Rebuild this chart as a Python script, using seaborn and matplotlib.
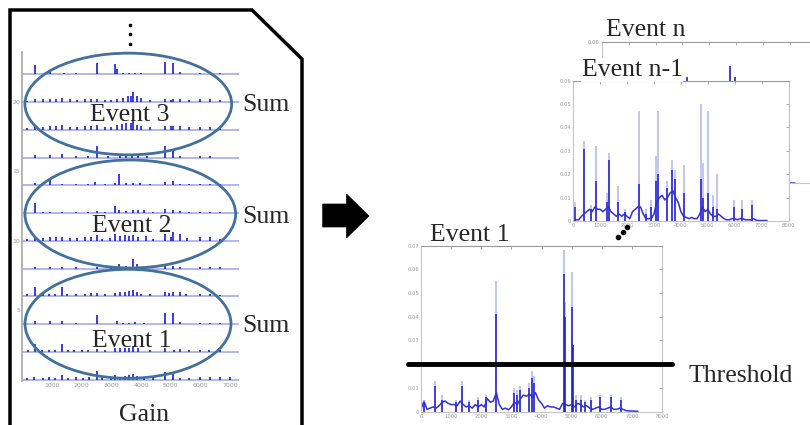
import numpy as np
import matplotlib.pyplot as plt
import seaborn as sns
from matplotlib.patches import Ellipse, Polygon

# --- Configuration ---
sns.set_theme(style="white")
plt.rcParams['font.family'] = ['Liberation Serif', 'DejaVu Serif']

W, H = 810, 425
BLUE = '#1c1cd2'
LIGHT_BLUE = '#9ea4e6'
TICK_GREY = '#9a9a9a'
ELLIPSE_COLOR = '#41719c'

# --- Left panel: stacked gain traces (12 traces, offset 2 units apart) ---
trace_offsets = [0, 2, 4, 6, 8, 10, 12, 14, 16, 18, 20, 22]
trace_gain_max = 7300
left_yticks = [5, 10, 15, 20]
left_xticks = [1000, 2000, 3000, 4000, 5000, 6000, 7000]

spike_gain = [
    [150, 400, 700, 900, 1100, 1325, 1550, 1800, 2050, 2250, 2500, 2700, 3000, 3120, 3300, 3450, 3600, 3740, 3850, 4100, 4400, 4800, 5080, 5300, 5600, 5985, 6320, 6650, 7000],
    [200, 430, 650, 900, 1100, 1325, 1550, 1750, 2000, 2200, 2500, 2800, 3121, 3300, 3450, 3600, 3740, 3900, 4300, 4800, 5100, 5300, 5600, 5985, 6300, 6650],
    [430, 932, 1325, 1800, 2500, 3200, 3400, 3600, 3800, 4100, 4800, 5085, 5300, 5985, 6320, 6650],
    [150, 430, 700, 900, 1100, 1325, 1500, 1800, 2100, 2300, 2504, 2800, 3121, 3300, 3450, 3600, 3738, 3850, 4000, 4300, 4805, 4950, 5085, 5300, 5500, 5985, 6320, 6650],
    [430, 932, 1325, 1800, 2500, 3000, 3250, 3500, 3740, 3850, 4100, 4805, 5085, 5300, 5985, 6320, 6650],
    [150, 430, 700, 932, 1150, 1325, 1600, 1850, 2100, 2300, 2504, 2700, 2950, 3121, 3300, 3450, 3600, 3740, 3900, 4150, 4400, 4805, 5000, 5085, 5300, 5550, 5985, 6320, 6650],
    [430, 700, 932, 1325, 1800, 2200, 2504, 2800, 3121, 3250, 3500, 3740, 3900, 4100, 4400, 4805, 5085, 5300, 5600, 5985, 6320, 6650],
    [430, 932, 1325, 1800, 2200, 2450, 2800, 3121, 3250, 3500, 3740, 3950, 4300, 4805, 5085, 5300, 5600, 5985, 6320, 6650],
    [430, 932, 1325, 1800, 2200, 2504, 2900, 3300, 3500, 3700, 3900, 4200, 4805, 5085, 5300, 5985, 6320],
    [150, 430, 700, 932, 1150, 1325, 1600, 1850, 2100, 2300, 2504, 2800, 3000, 3200, 3350, 3500, 3650, 3738, 3850, 4000, 4300, 4805, 5000, 5085, 5300, 5600, 5985, 6320, 6650],
    [150, 430, 700, 932, 1150, 1325, 1600, 1850, 2100, 2300, 2504, 2800, 3000, 3200, 3400, 3550, 3650, 3738, 3850, 4000, 4300, 4805, 5000, 5085, 5300, 5600, 5985, 6320, 6650],
    [430, 932, 1400, 1800, 2504, 3121, 3180, 3400, 3600, 3800, 4000, 4805, 5085, 5300, 5985, 6320, 6650],
]
spike_height = [
    [0.15, 0.2, 0.15, 0.2, 0.15, 0.35, 0.15, 0.2, 0.15, 0.2, 0.6, 0.15, 0.15, 0.3, 0.2, 0.25, 0.3, 0.4, 0.25, 0.15, 0.15, 0.55, 0.4, 0.15, 0.15, 0.2, 0.2, 0.2, 0.2],
    [0.1, 0.6, 0.15, 0.15, 0.15, 0.6, 0.1, 0.15, 0.1, 0.15, 0.2, 0.15, 0.3, 0.25, 0.3, 0.3, 0.4, 0.25, 0.1, 0.25, 0.15, 0.2, 0.1, 0.15, 0.1, 0.1],
    [0.25, 0.2, 0.2, 0.1, 0.65, 0.2, 0.1, 0.1, 0.12, 0.1, 0.8, 0.8, 0.15, 0.1, 0.1, 0.08],
    [0.15, 0.65, 0.2, 0.2, 0.2, 0.65, 0.15, 0.2, 0.2, 0.25, 0.25, 0.15, 0.25, 0.3, 0.3, 0.35, 0.45, 0.3, 0.2, 0.15, 0.3, 0.25, 0.3, 0.3, 0.15, 0.2, 0.15, 0.1],
    [0.1, 0.1, 0.1, 0.08, 0.1, 0.1, 0.3, 0.15, 0.7, 0.35, 0.1, 0.2, 0.15, 0.1, 0.1, 0.1, 0.08],
    [0.15, 0.35, 0.2, 0.3, 0.25, 0.25, 0.2, 0.2, 0.25, 0.3, 0.4, 0.15, 0.2, 0.5, 0.35, 0.4, 0.35, 0.4, 0.3, 0.35, 0.15, 0.5, 0.3, 0.6, 0.5, 0.2, 0.3, 0.3, 0.15],
    [0.75, 0.1, 0.1, 0.1, 0.1, 0.1, 0.15, 0.1, 0.5, 0.2, 0.15, 0.25, 0.2, 0.2, 0.1, 0.3, 0.2, 0.15, 0.1, 0.1, 0.1, 0.1],
    [0.15, 0.4, 0.1, 0.1, 0.1, 0.25, 0.1, 0.15, 0.8, 0.15, 0.15, 0.15, 0.1, 0.25, 0.3, 0.1, 0.1, 0.1, 0.1, 0.08],
    [0.15, 0.15, 0.25, 0.1, 0.1, 0.8, 0.1, 0.1, 0.12, 0.12, 0.1, 0.1, 0.8, 0.6, 0.1, 0.1, 0.08],
    [0.15, 0.25, 0.2, 0.25, 0.3, 0.35, 0.2, 0.2, 0.25, 0.3, 0.35, 0.2, 0.2, 0.35, 0.4, 0.45, 0.45, 0.6, 0.35, 0.3, 0.2, 0.3, 0.25, 0.3, 0.25, 0.2, 0.2, 0.2, 0.15],
    [0.1, 0.2, 0.25, 0.2, 0.25, 0.3, 0.2, 0.15, 0.2, 0.25, 0.2, 0.15, 0.15, 0.25, 0.3, 0.4, 0.45, 0.75, 0.4, 0.3, 0.15, 0.25, 0.15, 0.25, 0.2, 0.15, 0.2, 0.25, 0.15],
    [0.67, 0.24, 0.1, 0.08, 0.84, 0.72, 0.4, 0.1, 0.1, 0.12, 0.1, 0.9, 0.84, 0.15, 0.1, 0.1, 0.1],
]

# --- Right panels: single event spectra (values in units of 0.001) ---
spec_xticks = [0, 1000, 2000, 3000, 4000, 5000, 6000, 7000, 8000]
baseline_gain = np.arange(0, 7300, 100)

event1_baseline = [1.0, 4.5, 1.0, 1.5, 2.0, 1.5, 2.5, 4.0, 4.5, 3.5,
                   3.0, 3.0, 2.5, 4.5, 3.0, 2.0, 2.5, 1.5, 3.0, 2.0,
                   3.0, 2.0, 5.5, 4.0, 4.5, 8.0, 3.0, 1.0, 1.5, 0.8,
                   2.0, 4.0, 3.0, 5.5, 7.0, 6.5, 7.5, 6.0, 8.0, 5.0,
                   3.5, 1.5, 2.5, 2.0, 2.0, 1.5, 1.0, 3.5, 3.0, 2.5,
                   3.0, 2.0, 3.5, 3.0, 2.0, 2.5, 1.5, 1.0, 1.5, 2.0,
                   1.0, 1.0, 1.5, 2.0, 1.0, 1.0, 1.5, 1.0, 0.5, 0.3,
                   0.3, 0.2, 0.2]
event1_spike_gain = [100, 450, 700, 1150, 1350, 1600, 1900, 2150, 2490, 3100, 3200, 3300, 3600, 3700, 3750,
                     4750, 4770, 5000, 5050, 5150, 5300, 5450, 5650, 5950, 6300, 6650]
event1_spike_peak = [5, 13, 7, 5, 13, 5, 6, 7, 55, 10, 9, 11, 12, 17, 15, 68, 46, 59, 28, 7, 7, 5, 6, 7, 7, 6]
event1_spike_core = [4, 11, 5, 4, 11, 4, 5, 6, 41, 8, 7, 9, 10, 14, 12, 58, 40, 44, 28, 5, 5, 4, 5, 6, 6, 5]
threshold = 0.02

eventn1_baseline = [0.0, 0.5, 0.5, 2.0, 3.0, 4.0, 5.0, 4.0, 6.0, 5.0,
                    5.0, 4.0, 5.0, 6.0, 4.0, 3.0, 2.0, 3.0, 2.0, 3.0,
                    2.0, 1.0, 4.0, 5.0, 6.0, 6.0, 3.0, 1.0, 1.0, 1.0,
                    3.0, 8.0, 10.0, 11.0, 9.0, 10.0, 12.0, 13.0, 10.0, 8.0,
                    4.0, 2.0, 1.5, 1.0, 1.5, 1.0, 1.0, 3.0, 6.0, 4.0,
                    5.0, 3.0, 2.0, 2.0, 3.0, 2.0, 1.0, 0.5, 0.5, 1.0,
                    1.0, 0.5, 1.0, 1.0, 0.5, 0.5, 0.5, 1.0, 0.3, 0.2,
                    0.2, 0.2, 0.2]
eventn1_spike_gain = [60, 410, 650, 845, 1250, 1315, 1670, 1920, 2440, 2700, 2890, 3060, 3160, 3500, 3680,
                      3780, 4115, 4745, 4810, 5020, 5205, 5330, 5975, 6260, 6630]
eventn1_spike_peak = [8, 34, 7, 32, 12, 29, 15, 5, 47, 5, 9, 28, 47, 17, 26, 22, 24, 50, 25, 47, 11, 20, 9, 9, 9]
eventn1_spike_core = [6, 31, 5, 17, 8, 26, 8, 4, 16, 3, 6, 17, 20, 14, 22, 18, 12, 18, 10, 12, 6, 5, 6, 5, 7]

eventn_spike_gain = [2460, 3180, 4770, 4960]
eventn_spike_peak = [47, 45, 50, 45]

fig = plt.figure(figsize=(W / 100, H / 100), dpi=100)


def px_axes(x0, y0, x1, y1):
    # axes placed by pixel box (top-left origin)
    return fig.add_axes([x0 / W, 1 - y1 / H, (x1 - x0) / W, (y1 - y0) / H])


def style_spectrum(ax, ymax):
    ax.set_xlim(0, 8000)
    ax.set_ylim(0, ymax)
    ax.set_xticks(spec_xticks)
    yt = np.round(np.arange(0, ymax + 1e-9, 0.01), 2)
    ax.set_yticks(yt)
    ax.set_yticklabels(['0'] + [f'{v:.2f}' for v in yt[1:]])
    ax.tick_params(direction='in', length=2, width=0.5, labelsize=3.8,
                   labelcolor=TICK_GREY, color='#888888', pad=1.5,
                   top=True, right=True)
    for lab in ax.get_xticklabels() + ax.get_yticklabels():
        lab.set_family('DejaVu Sans')
    for sp in ax.spines.values():
        sp.set_color('#c4c4c4')
        sp.set_linewidth(0.8)
    ax.spines['top'].set_color('#9a9a9a')
    ax.set_facecolor('white')
    ax.set_xlabel('')
    ax.set_ylabel('')


def draw_spectrum(ax, base, sg, peak, core):
    sns.lineplot(x=baseline_gain, y=np.array(base) / 1000, ax=ax, color=BLUE, lw=1.1, alpha=0.9)
    ax.vlines(sg, 0, np.array(peak) / 1000, color=LIGHT_BLUE, lw=1.1, alpha=0.8)
    ax.vlines(sg, 0, np.array(core) / 1000, color=BLUE, lw=1.1)


# Left stacked traces
axl = px_axes(22.3, 52, 242, 381)
axl.set_xlim(0, 7400)
axl.set_ylim(-0.1, 23.6)
axl.hlines(trace_offsets, 0, trace_gain_max, color=LIGHT_BLUE, lw=1.1)
for off, g, h in zip(trace_offsets, spike_gain, spike_height):
    axl.vlines(g, off, off + np.array(h), color=BLUE, lw=1.2)
axl.set_yticks(left_yticks)
axl.set_xticks(left_xticks)
axl.tick_params(direction='in', length=2, width=0.5, labelsize=4.5,
                labelcolor=TICK_GREY, color='#999999', pad=1.5)
for lab in axl.get_xticklabels() + axl.get_yticklabels():
    lab.set_family('DejaVu Sans')
for name, sp in axl.spines.items():
    sp.set_visible(name == 'left')
axl.spines['left'].set_color('#aaaaaa')
axl.patch.set_alpha(0)

# Event n (behind) - only its top edge and a few peaks stay visible
axn = px_axes(601.7, 42, 817, 183)
draw_spectrum(axn, [0] * len(baseline_gain), eventn_spike_gain, eventn_spike_peak, eventn_spike_peak)
style_spectrum(axn, 0.06)
axn.set_yticklabels(['', '', '', '', '', '', '0.06'])
axn.set_xticklabels([])
for lab in axn.get_yticklabels():
    lab.set_family('DejaVu Sans')

# Event n-1 (front)
axn1 = px_axes(573.3, 80.7, 788.5, 221)
draw_spectrum(axn1, eventn1_baseline, eventn1_spike_gain, eventn1_spike_peak, eventn1_spike_core)
style_spectrum(axn1, 0.06)

# Event 1
ax1 = px_axes(421, 245.5, 662, 411.7)
draw_spectrum(ax1, event1_baseline, event1_spike_gain, event1_spike_peak, event1_spike_core)
style_spectrum(ax1, 0.07)
ax1.axhline(threshold, xmin=-0.054, xmax=1.04, color='black', lw=3.5, clip_on=False, zorder=5)

# Overlay for annotations (pixel coordinates)
ov = fig.add_axes([0, 0, 1, 1])
ov.set_xlim(0, W)
ov.set_ylim(H, 0)
ov.axis('off')
ov.patch.set_alpha(0)

ov.add_patch(Polygon([(10, 440), (10, 10), (252, 10), (302, 59), (302, 440)],
                     closed=False, fill=False, ec='black', lw=2.5))

for (cx, cy, w, h) in [(128.3, 104, 206.7, 101.7), (130.3, 214, 210.7, 108), (128, 323.8, 206, 109)]:
    ov.add_patch(Ellipse((cx, cy), w, h, fill=False, ec=ELLIPSE_COLOR, lw=2))

fs = 18.5
for label, x, y in [('Event 3', 130, 120.7), ('Event 2', 131.7, 232), ('Event 1', 131.7, 346.7)]:
    ov.text(x, y, label, fontsize=fs, ha='center', va='baseline')
for y in [111, 222.7, 331.7]:
    ov.text(242, y, 'Sum', fontsize=fs, ha='left', va='baseline')
ov.text(144, 420.7, 'Gain', fontsize=fs, ha='center', va='baseline')

ov.text(430, 240.7, 'Event 1', fontsize=fs, ha='left', va='baseline')
ov.text(689, 382.3, 'Threshold', fontsize=fs, ha='left', va='baseline')
ov.text(606, 36, 'Event n', fontsize=fs, ha='left', va='baseline')
ov.text(581.7, 76, 'Event n-1', fontsize=fs, ha='left', va='baseline',
        bbox=dict(facecolor='white', edgecolor='none', pad=0.5))

# vertical ellipsis above left panel, diagonal ellipsis between spectra
ov.plot([130, 130, 130], [25, 34, 44], ls='none', marker='s', ms=1.6, color='black')
ov.plot([618.3, 623, 627.3], [237.3, 232, 227], ls='none', marker='o', ms=3, color='black')

# big arrow
ov.add_patch(Polygon([(322.7, 204), (346.5, 204), (346.5, 194), (369, 216),
                      (346.5, 238), (346.5, 227), (322.7, 227)],
                     closed=True, fc='black', ec='black', lw=0.5))

fig.savefig('out.png', dpi=100, facecolor='white')
